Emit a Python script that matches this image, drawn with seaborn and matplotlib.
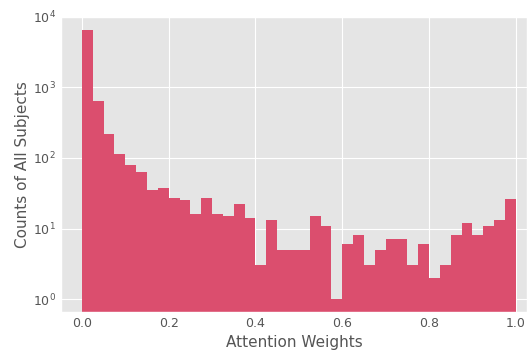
import seaborn as sns
import matplotlib.pyplot as plt
import numpy as np
import pandas as pd

# histogram counts per bin (40 bins over [0, 1])
bin_edges = np.linspace(0.0, 1.0, 41)
counts = [6600, 645, 215, 115, 79, 63, 35, 37, 27, 25,
          16, 27, 16, 15, 22, 14, 3, 13, 5, 5,
          5, 15, 11, 1, 6, 8, 3, 5, 7, 7,
          3, 6, 2, 3, 8, 12, 8, 11, 13, 26]
bin_centers = (bin_edges[:-1] + bin_edges[1:]) / 2

df = pd.DataFrame({'weight': bin_centers, 'count': counts})

plt.style.use('ggplot')
plt.rcParams['font.family'] = ['DejaVu Sans']

fig = plt.figure(figsize=(5.27, 3.5), dpi=100)
ax = fig.add_axes([0.116, 0.109, 0.884, 0.843])

sns.histplot(data=df, x='weight', weights='count', bins=list(bin_edges), ax=ax,
             color='#DB4E6E', alpha=1.0, linewidth=0)
ax.set_yscale('log')
ax.set_ylim(0.66, 1e4)
ax.set_xlim(-0.048, 1.026)
ax.set_xticks([0.0, 0.2, 0.4, 0.6, 0.8, 1.0])

ax.set_xlabel('Attention Weights', fontsize=11, color='#555555', labelpad=3)
ax.set_ylabel('Counts of All Subjects', fontsize=11, color='#555555', labelpad=2)
ax.tick_params(labelsize=9, colors='#555555', length=0, pad=4)
ax.tick_params(which='minor', length=0)

fig.savefig('out.png', dpi=100)
